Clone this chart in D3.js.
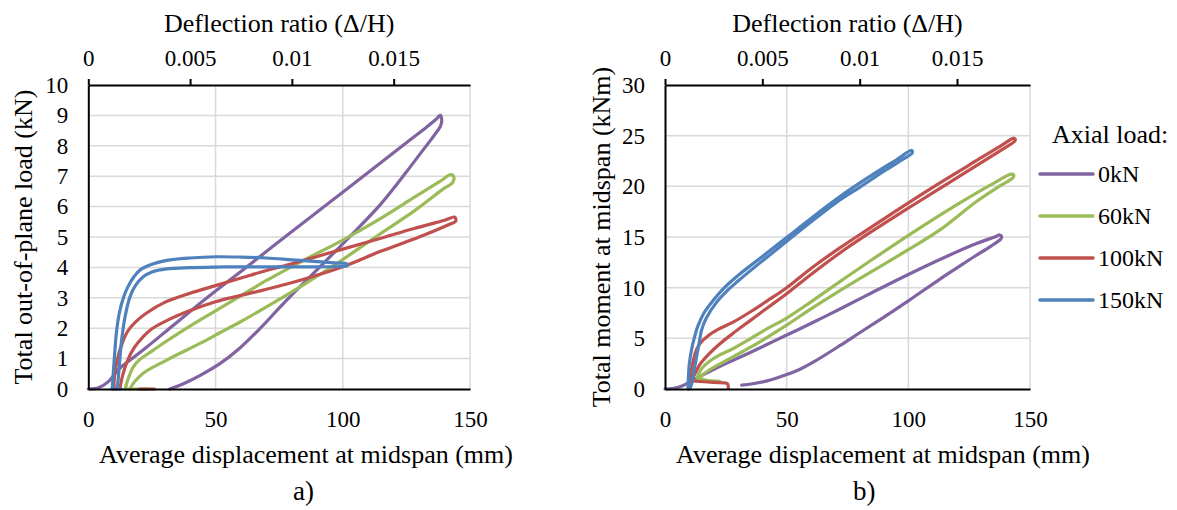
<!DOCTYPE html>
<html><head><meta charset="utf-8">
<script src="https://cdn.jsdelivr.net/npm/d3@7/dist/d3.min.js"></script>
<style>
body{margin:0;background:#fff;}
svg text{font-family:"Liberation Serif","Times New Roman",serif;fill:#000;}
</style></head><body>
<svg id="c" width="1177" height="510" font-family="Liberation Serif, Times New Roman, serif"></svg>
<script>
// ---------------- DATA ----------------
const seriesNames = ["0kN", "60kN", "100kN", "150kN"];
const dispTicks = [0, 50, 100, 150];
const loadTicks = [0, 1, 2, 3, 4, 5, 6, 7, 8, 9, 10];
const momentTicks = [0, 5, 10, 15, 20, 25, 30];
const ratioTicks = [0, 0.005, 0.01, 0.015];
const ratioMax = 0.01875;          // deflection ratio at 150 mm
const panelLabels = ["a)", "b)"];

// Panel a: [displacement (mm), total out-of-plane load (kN)]
const loadA_0kN = [[
  [0,0],[4,0.04],[8,0.25],[11,0.55],[13,0.73],[18,1.05],[23,1.38],[32,2.0],[40,2.55],[50,3.22],
  [62,4.0],[78,5.05],[95,6.15],[112,7.25],[125,8.1],[133,8.62],[137,8.9],[138.3,9.0],[138.9,8.85],
  [138.4,8.65],[136,8.35],[131,7.8],[126,7.25],[120,6.6],[114.6,6.05],[105,5.2],[97,4.52],
  [86,3.6],[76,2.75],[67.6,2.0],[59.6,1.35],[52,0.85],[44,0.45],[38,0.2],[32,0]
]];
const loadA_60kN = [[
  [14.5,0],[15.5,0.3],[17.7,0.73],[20,0.95],[24.2,1.2],[30.8,1.58],[40,2.07],[50,2.57],[60,3.07],
  [70,3.57],[85,4.25],[100,4.9],[114.6,5.6],[128,6.3],[138,6.82],[142.5,7.05],[143.6,6.98],
  [143.2,6.8],[139,6.55],[128,5.85],[114.6,5.1],[100,4.26],[85,3.45],[70,2.7],[60,2.22],[51.7,1.85],
  [43.9,1.5],[30.8,0.95],[21.6,0.52],[18,0.22],[16.4,0]
],[
  [14.5,0],[23.5,0]
]];
const loadA_100kN = [[
  [10,0],[10.4,0.5],[11.5,1.0],[13.3,1.5],[15.5,1.9],[18.5,2.2],[22.9,2.5],[30,2.85],[40,3.15],
  [50,3.4],[60,3.65],[70,3.9],[80,4.12],[90,4.36],[100,4.6],[114.6,4.95],[128,5.28],[140,5.55],
  [144,5.65],[144.4,5.52],[142,5.42],[130,5.0],[114.6,4.52],[100,4.02],[85,3.62],[70,3.28],
  [60,3.08],[50,2.87],[40,2.58],[30.8,2.25],[25,1.98],[21.6,1.72],[18,1.35],[15.5,0.95],
  [13.5,0.45],[12.5,0.05]
],[
  [20,0],[26,0]
]];
const loadA_150kN = [[
  [9.4,0],[9.8,0.5],[10.4,1.2],[11.1,1.9],[12.2,2.5],[13.8,3.0],[15.5,3.35],[18,3.7],[20.3,3.91],
  [25,4.1],[30.8,4.23],[40,4.31],[50.4,4.35],[60,4.34],[70,4.31],[80,4.25],[90,4.19],[98,4.14],
  [101.5,4.12],[101.8,4.06],[99,4.03],[90,4.02],[75,4.02],[60,4.02],[50,4.01],[40,3.99],
  [30.8,3.95],[25,3.85],[21.6,3.69],[18.5,3.4],[16.4,3.04],[14.5,2.4],[13.1,1.61],[12.2,0.8],
  [11.5,0.15],[11,0]
],[
  [9.2,0],[13.1,0]
]];

// Panel b: [displacement (mm), total moment at midspan (kNm)]
const momentB_0kN = [[
  [0,0],[3,0.05],[7,0.3],[10.3,0.72],[14,1.2],[18.5,1.75],[25,2.5],[35,3.6],[45,4.75],[55.5,5.95],
  [64,6.95],[71.9,7.9],[85,9.5],[100,11.3],[115,13.0],[128,14.35],[135.5,15.0],[137.6,15.2],
  [138.3,15.05],[138,14.8],[134,14.1],[127,13.05],[120,11.95],[113,10.85],[100,8.7],[90,7.1],
  [80,5.55],[72,4.3],[62,2.8],[55.5,1.95],[48,1.25],[42,0.8],[36,0.52],[31.5,0.38]
]];
const momentB_60kN = [[
  [13,0.8],[13.5,1.3],[15,2.0],[18,2.7],[22,3.3],[28.1,4.0],[35,4.95],[42,5.95],[50,7.0],[60,8.6],
  [71.9,10.6],[85,12.75],[103.5,15.7],[120,18.2],[135,20.3],[142.5,21.2],[143.4,21.05],
  [142.5,20.75],[138,20.1],[128,18.5],[113,15.7],[100,13.75],[85,11.6],[71.9,9.7],[60,7.9],
  [50,6.3],[42,5.1],[35,4.1],[28.1,3.19],[22,2.4],[18,1.85],[15,1.3],[13.5,0.95]
],[
  [13.5,1.1],[17,0.85],[22.5,0.75]
]];
const momentB_100kN = [[
  [10.3,0.7],[10.8,1.8],[11.8,3.0],[13,3.9],[14.4,4.5],[18,5.3],[22,5.9],[28,6.6],[35,7.6],
  [42,8.7],[50,10.0],[60,11.9],[72,13.95],[84,15.85],[97,17.9],[111,20.05],[125,22.1],[138,24.0],
  [143.5,24.75],[144,24.6],[143.5,24.4],[140,23.85],[125,21.6],[111,19.5],[97,17.4],[84,15.4],
  [72,13.45],[60,11.3],[50,9.4],[42,8.0],[35,6.75],[28,5.5],[22,4.35],[18,3.45],[14.4,2.45],
  [12.5,1.6],[11,0.9]
],[
  [11,0.8],[20,0.65],[25.5,0.55],[26,0.3],[26,0.05]
]];
const momentB_150kN = [[
  [9.4,0],[9.6,1.0],[10,2.5],[11,4.0],[12,5.0],[13.5,6.2],[16,7.5],[20,8.8],[24,9.9],[30,11.2],
  [38,12.7],[46,14.2],[54,15.7],[63,17.4],[71.9,19.0],[85,21.1],[95,22.6],[101.4,23.55],
  [101.6,23.3],[98,22.7],[90,21.5],[80,19.9],[71.9,18.65],[63,17.05],[54,15.35],[46,13.8],
  [38,12.25],[30,10.65],[26,9.8],[21,8.5],[17,7.0],[15,5.8],[14,4.5],[13,3.2],[12,1.9],
  [11.2,0.8],[10.5,0.2],[9.8,0]
]];

const panelA = [loadA_0kN, loadA_60kN, loadA_100kN, loadA_150kN];
const panelB = [momentB_0kN, momentB_60kN, momentB_100kN, momentB_150kN];

// ---------------- STYLE / LAYOUT ----------------
const colors = ["#8064A2", "#9BBB59", "#C0504D", "#4F81BD"];
const svg = d3.select("#c");
const plotTop = 85, plotBottom = 389;

function drawPanel(cfg) {
  const x = d3.scaleLinear().domain([0, 150]).range([cfg.left, cfg.right]);
  const xr = d3.scaleLinear().domain([0, ratioMax]).range([cfg.left, cfg.right]);
  const y = d3.scaleLinear().domain([0, cfg.yMax]).range([plotBottom, plotTop]);
  const g = svg.append("g");

  // gridlines
  g.append("g").selectAll("line").data(cfg.yTicks.filter(d => d > 0 && d < cfg.yMax)).join("line")
    .attr("x1", cfg.left).attr("x2", cfg.right).attr("y1", d => y(d)).attr("y2", d => y(d))
    .attr("stroke", "#d9d9d9").attr("stroke-width", 1.5);
  g.append("g").selectAll("line").data(dispTicks.filter(d => d > 0)).join("line")
    .attr("x1", d => x(d)).attr("x2", d => x(d)).attr("y1", plotTop).attr("y2", plotBottom)
    .attr("stroke", "#d9d9d9").attr("stroke-width", 1.5);

  // series
  const line = d3.line().x(d => x(d[0])).y(d => y(d[1])).curve(d3.curveCatmullRom.alpha(0.5));
  cfg.data.forEach((segs, i) => {
    segs.forEach(seg => {
      g.append("path").attr("d", line(seg)).attr("fill", "none")
        .attr("stroke", colors[i]).attr("stroke-width", 3.2)
        .attr("stroke-linejoin", "round").attr("stroke-linecap", "round");
    });
  });

  // left axis
  const ay = g.append("g").attr("transform", `translate(${cfg.left},0)`)
    .call(d3.axisLeft(y).tickValues(cfg.yTicks).tickSize(0).tickPadding(20).tickFormat(d3.format("d")));
  // bottom axis
  const ax = g.append("g").attr("transform", `translate(0,${plotBottom})`)
    .call(d3.axisBottom(x).tickValues(dispTicks).tickSize(0).tickPadding(22).tickFormat(d3.format("d")));
  // top axis
  const at = g.append("g").attr("transform", `translate(0,${plotTop})`)
    .call(d3.axisTop(xr).tickValues(ratioTicks).tickSize(6).tickSizeOuter(0).tickPadding(13)
      .tickFormat(d => String(d)));
  [ay, ax, at].forEach(a => {
    a.attr("font-family", null).attr("font-size", null);
    a.select(".domain").attr("stroke", "#000").attr("stroke-width", 2);
    a.selectAll(".tick line").attr("stroke", "#000").attr("stroke-width", 2);
    a.selectAll(".tick text").style("font-size", "23px");
  });

  // titles
  g.append("text").attr("x", (cfg.left + cfg.right) / 2).attr("y", 31.5).attr("text-anchor", "middle")
    .style("font-size", "26px").text("Deflection ratio (\u0394/H)");
  g.append("text").attr("x", cfg.xTitleX).attr("y", 463).attr("text-anchor", "middle")
    .style("font-size", "26px").text("Average displacement at midspan (mm)");
  g.append("text").attr("transform", `translate(${cfg.yTitleX},${(plotTop + plotBottom) / 2}) rotate(-90)`)
    .attr("text-anchor", "middle").style("font-size", "26px").text(cfg.yTitle);
  g.append("text").attr("x", cfg.labelX).attr("y", 500).style("font-size", "27px").text(cfg.label);
}

drawPanel({left: 88.3, right: 470, yMax: 10, yTicks: loadTicks, data: panelA,
  yTitle: "Total out-of-plane load (kN)", yTitleX: 32, xTitleX: 306, labelX: 293, label: panelLabels[0]});
drawPanel({left: 665, right: 1030, yMax: 30, yTicks: momentTicks, data: panelB,
  yTitle: "Total moment at midspan (kNm)", yTitleX: 610, xTitleX: 883, labelX: 853, label: panelLabels[1]});

// legend
const lg = svg.append("g");
lg.append("text").attr("x", 1052).attr("y", 143).style("font-size", "26px").text("Axial load:");
const legY = d3.scalePoint().domain(seriesNames).range([174, 300]);
seriesNames.forEach((s, i) => {
  lg.append("line").attr("x1", 1040).attr("x2", 1093).attr("y1", legY(s)).attr("y2", legY(s))
    .attr("stroke", colors[i]).attr("stroke-width", 3.5).attr("stroke-linecap", "round");
  lg.append("text").attr("x", 1098).attr("y", legY(s) + 8).style("font-size", "24px").text(s);
});
</script></body></html>
